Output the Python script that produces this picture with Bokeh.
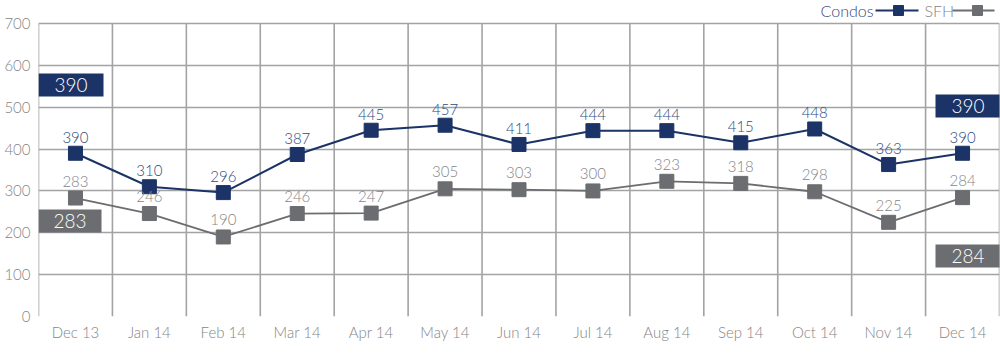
from bokeh.plotting import figure
from bokeh.models import FixedTicker, ColumnDataSource
from bokeh.core.properties import value
from bokeh.embed import file_html
from bokeh.resources import INLINE

months = ["Dec 13", "Jan 14", "Feb 14", "Mar 14", "Apr 14", "May 14", "Jun 14",
          "Jul 14", "Aug 14", "Sep 14", "Oct 14", "Nov 14", "Dec 14"]
condos = [390, 310, 296, 387, 445, 457, 411, 444, 444, 415, 448, 363, 390]
sfh = [283, 246, 190, 246, 247, 305, 303, 300, 323, 318, 298, 225, 284]
y_ticks = [0, 100, 200, 300, 400, 500, 600, 700]

NAVY = "#1b3366"
NAVY_TXT = "#2f4a7c"
GRAY = "#6b6d70"
GRAY_TXT = "#858689"
GRID = "#a3a3a3"
FONT = "Lato Light"

W, H = 1000, 355
LEFT, RIGHT, BOTTOM = 38, 1, 39
YMAX = 700
ytop = YMAX * 316.0 / 293.0  # top of frame in data units (700 sits 23px below top)
n = len(months)
xs = [i + 0.5 for i in range(n)]

p = figure(width=W, height=H, x_range=(0, n), y_range=(0, ytop),
           output_backend="svg", toolbar_location=None,
           min_border_left=LEFT, min_border_right=RIGHT,
           min_border_top=0, min_border_bottom=BOTTOM)
p.outline_line_color = None
p.background_fill_color = "white"
p.border_fill_color = "white"

fw = W - LEFT - RIGHT
fh = H - BOTTOM
def px_x(px):
    return (px - LEFT) * n / fw
def px_y(py):
    return (fh - py) * ytop / fh

# grid
p.xgrid.visible = False
p.ygrid.ticker = FixedTicker(ticks=y_ticks)
p.ygrid.grid_line_color = GRID
p.ygrid.grid_line_width = 1.6
bounds = list(range(n + 1))
p.segment(x0=bounds, y0=[0] * len(bounds), x1=bounds, y1=[YMAX] * len(bounds),
          line_color=GRID, line_width=1.6)

# axes
p.xaxis.ticker = FixedTicker(ticks=xs)
p.xaxis.major_label_overrides = {x: m for x, m in zip(xs, months)}
p.yaxis.ticker = FixedTicker(ticks=y_ticks)
for ax in (p.xaxis[0], p.yaxis[0]):
    ax.axis_line_color = None
    ax.major_tick_line_color = None
    ax.minor_tick_line_color = None
    ax.major_tick_out = 0
    ax.major_tick_in = 0
    ax.minor_tick_out = 0
    ax.minor_tick_in = 0
    ax.major_label_text_font = FONT
    ax.major_label_text_font_size = "15px"
    ax.major_label_text_color = "#858585"
p.xaxis.major_label_standoff = 6
p.yaxis.major_label_standoff = 8

# series
p.line(xs, sfh, line_color=GRAY, line_width=1.8)
p.scatter(xs, sfh, marker="square", size=14, fill_color=GRAY, line_color=GRAY)
p.line(xs, condos, line_color=NAVY, line_width=2)
p.scatter(xs, condos, marker="square", size=14, fill_color=NAVY, line_color=NAVY)

src_c = ColumnDataSource(dict(x=xs, y=condos, t=[str(v) for v in condos]))
src_s = ColumnDataSource(dict(x=xs, y=sfh, t=[str(v) for v in sfh]))
p.text(x="x", y="y", text="t", source=src_c, text_align="center", text_baseline="middle",
       y_offset=-16, text_font=value(FONT), text_font_size="15px", text_color=NAVY_TXT)
p.text(x="x", y="y", text="t", source=src_s, text_align="center", text_baseline="middle",
       y_offset=-17, text_font=value(FONT), text_font_size="15px", text_color=GRAY_TXT)

# side value boxes (first and last values)
boxes = [
    (px_x(38), px_x(103), px_y(73), px_y(96), NAVY, condos[0]),
    (px_x(38), px_x(101), px_y(209), px_y(232), GRAY, sfh[0]),
    (px_x(935), px_x(1000), px_y(94), px_y(117), NAVY, condos[-1]),
    (px_x(935), px_x(1000), px_y(244), px_y(267), GRAY, sfh[-1]),
]
p.quad(left=[b[0] for b in boxes], right=[b[1] for b in boxes],
       top=[b[2] for b in boxes], bottom=[b[3] for b in boxes],
       fill_color=[b[4] for b in boxes], line_color=None)
p.text(x=[(b[0] + b[1]) / 2 for b in boxes], y=[(b[2] + b[3]) / 2 for b in boxes],
       text=[str(b[5]) for b in boxes], text_align="center", text_baseline="middle",
       text_font=value(FONT), text_font_size="19px", text_color="white")

# legend (text before symbol)
ly = px_y(10)
p.text(x=[px_x(873)], y=[ly], text=["Condos"], text_align="right", text_baseline="middle",
       text_font=value(FONT), text_font_size="16px", text_color=NAVY_TXT)
p.segment(x0=[px_x(875)], y0=[ly], x1=[px_x(918)], y1=[ly], line_color=NAVY, line_width=2)
p.scatter(x=[px_x(898)], y=[ly], marker="square", size=10, fill_color=NAVY, line_color=NAVY)
p.text(x=[px_x(924)], y=[ly], text=["SFH"], text_align="left", text_baseline="middle",
       text_font=value(FONT), text_font_size="16px", text_color=GRAY_TXT)
p.segment(x0=[px_x(952)], y0=[ly], x1=[px_x(994)], y1=[ly], line_color=GRAY, line_width=2)
p.scatter(x=[px_x(977)], y=[ly], marker="square", size=10, fill_color=GRAY, line_color=GRAY)

open("out.html", "w").write(file_html(p, INLINE))
